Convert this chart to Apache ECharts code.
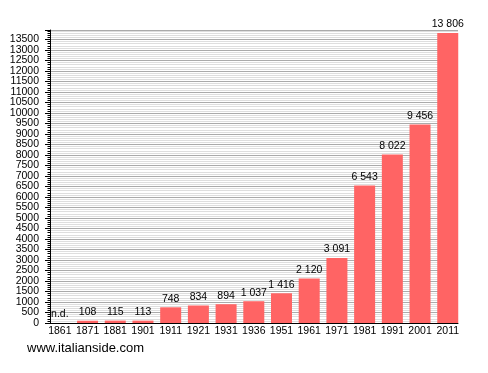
<!DOCTYPE html>
<html>
<head>
<meta charset="utf-8">
<script src="https://cdn.jsdelivr.net/npm/echarts@6/dist/echarts.min.js"></script>
<style>
  html, body { margin: 0; padding: 0; background: #fff; }
  #main { width: 488px; height: 373px; }
</style>
</head>
<body>
<div id="main"></div>
<script>
// dati del censimento (1861 non disponibile)
var years = ['1861', '1871', '1881', '1901', '1911', '1921', '1931', '1936', '1951', '1961', '1971', '1981', '1991', '2001', '2011'];
var population = [null, 108, 115, 113, 748, 834, 894, 1037, 1416, 2120, 3091, 6543, 8022, 9456, 13806];
var yMax = 13950;
var yStep = 500;

var font = 'Liberation Sans, Arial, sans-serif';

function fmt(v) {
  return String(v).replace(/\B(?=(\d{3})+(?!\d))/g, ' ');
}

var barData = population.map(function (v) {
  if (v === null) {
    return { value: 0, label: { formatter: 'n.d.' } };
  }
  return v;
});

var myChart = echarts.init(document.getElementById('main'));
var option = {
  animation: false,
  backgroundColor: '#fff',
  grid: [
    { left: 50, right: 30, top: 30, bottom: 50 },
    { left: 46, right: 26.4, top: 30, bottom: 50 }
  ],
  xAxis: [
    {
      gridIndex: 0,
      type: 'category',
      data: years,
      axisLine: { show: true, lineStyle: { color: '#000', width: 1 } },
      axisTick: { show: false },
      axisLabel: { show: false },
      splitLine: { show: false }
    },
    {
      gridIndex: 1,
      type: 'category',
      data: years,
      axisLine: { show: false },
      axisTick: { show: false },
      axisLabel: { color: '#000', fontSize: 10.5, fontFamily: font, margin: 3, interval: 0, hideOverlap: false },
      splitLine: { show: false }
    }
  ],
  yAxis: [
    {
      gridIndex: 0,
      type: 'value',
      min: 0,
      max: yMax,
      interval: yStep,
      axisLine: { show: true, lineStyle: { color: '#000', width: 1 } },
      axisTick: { show: true, length: 5, lineStyle: { color: '#000' } },
      minorTick: { show: true, splitNumber: 5, length: 2.5, lineStyle: { color: '#000' } },
      axisLabel: {
        color: '#000', fontSize: 10.5, fontFamily: font, margin: 11,
        showMinLabel: true,
        formatter: function (v) { return v > 0 && v % yStep === 0 ? String(v) : ''; }
      },
      splitLine: { show: true, lineStyle: { color: '#aaaaaa', width: 1 } },
      minorSplitLine: { show: true, lineStyle: { color: '#dedede', width: 1 } }
    },
    {
      // solo l'etichetta "0"
      gridIndex: 1,
      type: 'value',
      min: 0,
      max: yMax,
      interval: yStep,
      axisLine: { show: false },
      axisTick: { show: false },
      splitLine: { show: false },
      axisLabel: {
        color: '#000', fontSize: 10.5, fontFamily: font, margin: 7,
        showMinLabel: true,
        formatter: function (v) { return v === 0 ? '0' : ''; }
      }
    }
  ],
  series: [
    {
      type: 'bar',
      xAxisIndex: 1,
      yAxisIndex: 1,
      data: barData,
      barWidth: 21,
      itemStyle: { color: '#ff6464' },
      label: {
        show: true,
        position: 'top',
        distance: 3,
        color: '#000',
        fontSize: 10.5,
        fontFamily: font,
        formatter: function (p) { return fmt(p.value); }
      }
    }
  ],
  graphic: [
    {
      type: 'text',
      left: 27,
      top: 342,
      style: { text: 'www.italianside.com', fill: '#000', fontSize: 13, fontFamily: font }
    }
  ]
};
myChart.setOption(option);
</script>
</body>
</html>
